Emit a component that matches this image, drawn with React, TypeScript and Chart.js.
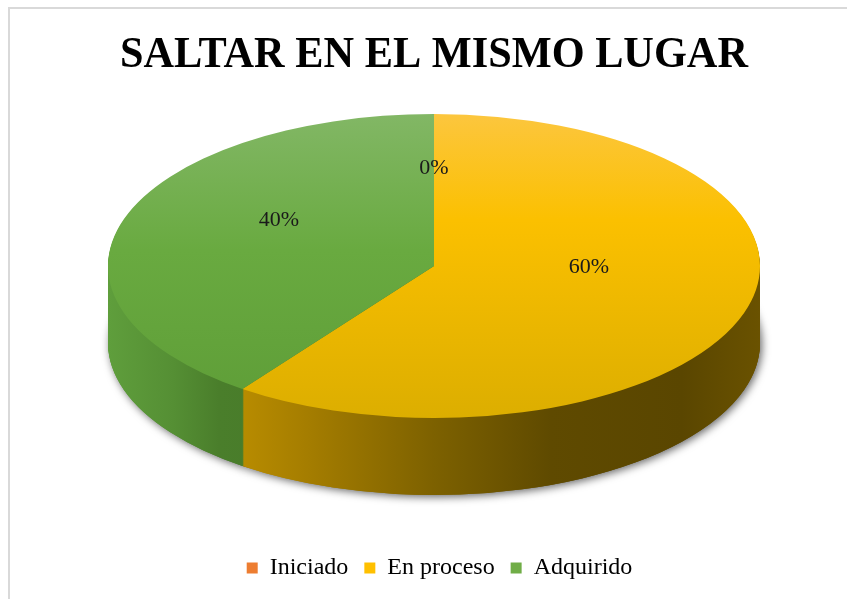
import React, { useEffect, useRef } from 'react';
import { Chart, registerables } from 'chart.js';

Chart.register(...registerables);

// ---- data ----
const TITLE = 'SALTAR EN EL MISMO LUGAR';
const CATEGORIES = ['Iniciado', 'En proceso', 'Adquirido'];
const VALUES = [0, 60, 40];
const COLORS = ['#ED7D31', '#FFC000', '#70AD47'];

// ---- styling ----
const TOP_STOPS: [number, string][][] = [
  [[0, '#f4a070'], [1, '#d8661c']],
  [[0, '#fcc63e'], [0.35, '#fbc000'], [1, '#dcae00']],
  [[0, '#82b765'], [0.45, '#69aa40'], [1, '#5e9d37']],
];
const SIDE_STOPS: [number, string][][] = [
  [[0, '#b85a1a'], [1, '#7a3a10']],
  [[0, '#c89800'], [0.16, '#c09200'], [0.3, '#a67e00'], [0.5, '#7d6100'], [0.68, '#5f4a00'], [0.88, '#5a4600'], [1, '#6a5200']],
  [[0, '#5f9e3c'], [0.1, '#558f34'], [0.17, '#4a7e2b'], [1, '#3a6420']],
];
const CX = 434;
const CY = 266;
const RX = 326;
const RY = 152;
const DEPTH = 77;
const LABEL_DY = -22;

const pie3d = {
  id: 'pie3d',
  beforeDraw(chart: any) {
    const ctx = chart.ctx;
    ctx.save();
    ctx.fillStyle = '#ffffff';
    ctx.fillRect(0, 0, chart.width, chart.height);
    ctx.strokeStyle = '#d9d9d9';
    ctx.lineWidth = 2;
    ctx.strokeRect(9, 8, chart.width + 10, chart.height + 10);
    ctx.restore();
  },
  beforeDatasetsDraw(chart: any) {
    const ctx = chart.ctx;
    const arcs = chart.getDatasetMeta(0).data as any[];
    if (!arcs.length) return false;
    const { x, y, outerRadius: r } = arcs[0].getProps(['x', 'y', 'outerRadius'], true);
    const apply = (dy: number) => {
      ctx.translate(CX, CY + dy);
      ctx.scale(RX / r, RY / r);
      ctx.translate(-x, -y);
    };
    const drawArc = (arc: any, fill: any) => {
      const o = arc.options;
      arc.options = { ...o, backgroundColor: fill, borderWidth: 0 };
      arc.draw(ctx);
      arc.options = o;
    };
    const sideFills = arcs.map((_, i) => {
      const g = ctx.createLinearGradient(x - r, 0, x + r, 0);
      SIDE_STOPS[i].forEach(([t, c]) => g.addColorStop(t, c));
      return g;
    });
    const topFills = arcs.map((_, i) => {
      const g = ctx.createLinearGradient(0, y - r, 0, y + r);
      TOP_STOPS[i].forEach(([t, c]) => g.addColorStop(t, c));
      return g;
    });
    // shadow
    ctx.save();
    ctx.shadowColor = 'rgba(0,0,0,0.6)';
    ctx.shadowBlur = 9;
    ctx.shadowOffsetX = 2;
    ctx.shadowOffsetY = 2;
    apply(DEPTH);
    arcs.forEach((a, i) => drawArc(a, sideFills[i]));
    ctx.restore();
    // sides
    for (let d = DEPTH; d >= 1; d -= 1) {
      ctx.save();
      apply(d);
      arcs.forEach((a, i) => drawArc(a, sideFills[i]));
      ctx.restore();
    }
    // top face
    ctx.save();
    apply(0);
    arcs.forEach((a, i) => drawArc(a, topFills[i]));
    ctx.restore();
    return false;
  },
  afterDraw(chart: any) {
    const ctx = chart.ctx;
    const arcs = chart.getDatasetMeta(0).data as any[];
    const total = VALUES.reduce((s, v) => s + v, 0);
    if (arcs.length) {
      const { x, y, outerRadius: r } = arcs[0].getProps(['x', 'y', 'outerRadius'], true);
      ctx.save();
      ctx.font = '22px "Liberation Serif"';
      ctx.fillStyle = '#1a1a1a';
      ctx.textAlign = 'center';
      ctx.textBaseline = 'middle';
      arcs.forEach((a, i) => {
        const p = a.tooltipPosition(true);
        const sx = CX + (p.x - x) * (RX / r);
        const sy = CY + (p.y - y) * (RY / r) + LABEL_DY;
        ctx.fillText(Math.round((VALUES[i] / total) * 100) + '%', sx, sy);
      });
      ctx.restore();
    }
    // title
    ctx.save();
    ctx.font = 'bold 45px "Liberation Serif"';
    const w = ctx.measureText(TITLE).width;
    ctx.translate(434, 67);
    ctx.scale(628 / w, 1);
    ctx.fillStyle = '#000000';
    ctx.textAlign = 'center';
    ctx.textBaseline = 'alphabetic';
    ctx.fillText(TITLE, 0, 0);
    ctx.restore();
  },
};

export default function App() {
  const ref = useRef<HTMLCanvasElement>(null);
  useEffect(() => {
    document.body.style.margin = '0';
    document.body.style.overflow = 'hidden';
    const chart = new Chart(ref.current!, {
      type: 'pie',
      data: {
        labels: CATEGORIES,
        datasets: [
          {
            data: VALUES,
            backgroundColor: COLORS,
            borderWidth: 0,
          },
        ],
      },
      options: {
        responsive: false,
        animation: false,
        events: [],
        layout: { padding: { left: 32, right: 0, top: 90, bottom: 9 } },
        plugins: {
          title: { display: false },
          tooltip: { enabled: false },
          legend: {
            position: 'bottom',
            labels: {
              font: { family: 'Liberation Serif', size: 24 },
              color: '#000000',
              boxWidth: 11,
              boxHeight: 11,
              padding: 16,
            },
          },
        },
      },
      plugins: [pie3d],
    });
    return () => chart.destroy();
  }, []);
  return (
    <div style={{ width: 847, height: 599 }}>
      <canvas ref={ref} width={847} height={599} />
    </div>
  );
}
